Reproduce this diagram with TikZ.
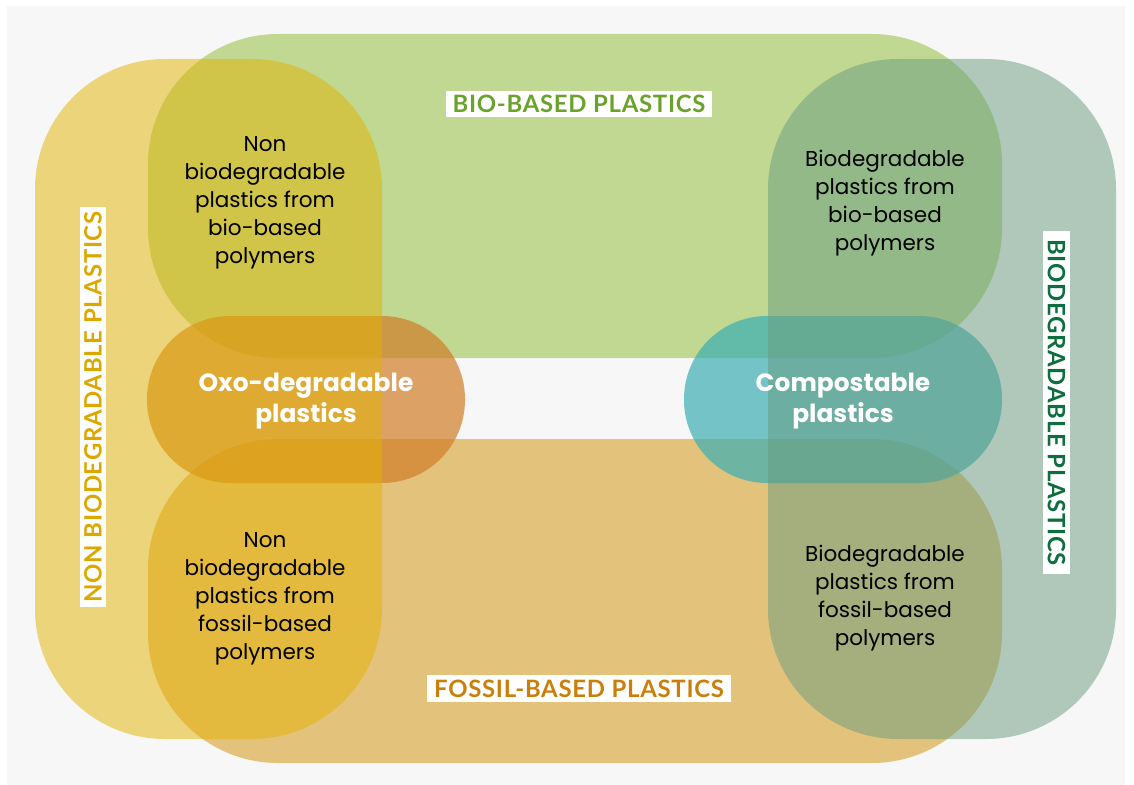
\documentclass[tikz,border=0pt]{standalone}
\usepackage{fontspec}
\setmainfont{Poppins}
\newfontfamily\labelfont[LetterSpace = 3]{Lato}

\definecolor{biobased}{RGB}{139,187,47}
\definecolor{fossilbased}{RGB}{209,145,1}
\definecolor{nonbiodeg}{RGB}{227,179,1}
\definecolor{biodeg}{RGB}{105,155,127}
\definecolor{oxo}{RGB}{209,126,40}
\definecolor{compost}{RGB}{59,174,180}
\definecolor{canvasgray}{RGB}{247,247,247}
\definecolor{biotext}{RGB}{106,162,42}
\definecolor{fossiltext}{RGB}{201,127,10}
\definecolor{nontext}{RGB}{220,168,0}
\definecolor{biodegtext}{RGB}{14,110,64}

\begin{document}
\begin{tikzpicture}[x = 1bp, y = -1bp,
	setbox/.style = {fill opacity = 0.5, rounded corners = 130bp},
	overlapbox/.style = {fill opacity = 0.7, rounded corners = 83bp},
	subtext/.style = {align = center, font = \fontsize{21.6}{28}\selectfont},
	overlaptext/.style = {align = center, text = white, font = \bfseries\fontsize{25}{31}\selectfont},
	setlabel/.style = {fill = white, inner sep = 0pt, font = \labelfont\bfseries\fontsize{24}{24}\selectfont}]

	% Page and canvas
	
	\useasboundingbox (0, 0) rectangle (1134, 785);
	\fill [white] (0, 0) rectangle (1134, 785);
	\fill [canvasgray] (7, 6) rectangle (1125, 785);
	
	% Bio-based and fossil-based bands
	
	\fill [setbox, biobased] (148, 34) rectangle (1002, 358);
	\fill [setbox, fossilbased] (148, 439) rectangle (1002, 763);
	
	% Oxo-degradable and compostable
	
	\fill [overlapbox, oxo] (147, 316) rectangle (465, 483);
	\fill [overlapbox, compost] (684, 316) rectangle (1002, 483);
	
	% Non biodegradable and biodegradable columns
	
	\fill [setbox, nonbiodeg] (35, 59) rectangle (382, 739);
	\fill [setbox, biodeg] (768, 59) rectangle (1116, 739);
	
	% Texts in the overlaps
	
	\node (nonbio) [subtext] at (265, 203) {Non\\biodegradable\\plastics from\\bio-based\\polymers};
	\node (nonfossil) [subtext] at (265, 599) {Non\\biodegradable\\plastics from\\fossil-based\\polymers};
	\node (degbio) [subtext] at (885, 203) {Biodegradable\\plastics from\\bio-based\\polymers};
	\node (degfossil) [subtext] at (885, 598) {Biodegradable\\plastics from\\fossil-based\\polymers};
	
	\node (oxotext) [overlaptext] at (306, 401) {Oxo-degradable\\plastics};
	\node (composttext) [overlaptext] at (843, 401) {Compostable\\plastics};
	
	% Group labels
	
	\node (biolabel) [setlabel, text = biotext, minimum width = 266bp, minimum height = 26bp] at (579, 104) {BIO-BASED PLASTICS};
	\node (fossillabel) [setlabel, text = fossiltext, minimum width = 304bp, minimum height = 27bp] at (579, 688.5) {FOSSIL-BASED PLASTICS};
	\node (nonlabel) [setlabel, text = nontext, rotate = 90, minimum width = 400bp, minimum height = 26bp] at (93, 407) {NON BIODEGRADABLE PLASTICS};
	\node (deglabel) [setlabel, text = biodegtext, rotate = -90, minimum width = 343bp, minimum height = 27bp] at (1056.5, 402.5) {BIODEGRADABLE PLASTICS};
	
\end{tikzpicture}
\end{document}
